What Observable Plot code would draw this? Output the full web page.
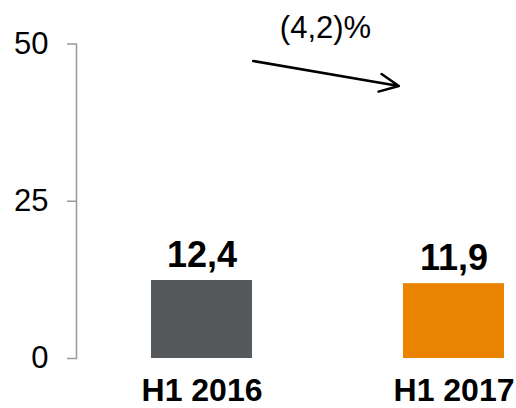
<!DOCTYPE html>
<html><head><meta charset="utf-8">
<script src="https://cdn.jsdelivr.net/npm/d3@7"></script>
<script src="https://cdn.jsdelivr.net/npm/@observablehq/plot@0.6"></script>
<style>html,body{margin:0;padding:0;background:#fff;}</style>
</head><body><div id="chart"></div>
<script>
const categories = ["H1 2016", "H1 2017"];
const values = [12.4, 11.9];
const valueLabels = ["12,4", "11,9"];
const barColors = ["#55595c", "#ea8400"];
const yTicks = [0, 25, 50];
const changeLabel = "(4,2)%";
const arrowFrom = {x: "H1 2016", y: 48.7};
const arrowTo = {x: "H1 2017", y: 41.8};

const data = categories.map((c, i) => ({category: c, value: values[i], label: valueLabels[i], color: barColors[i]}));
const arrowData = [{x1: arrowFrom.x, y1: arrowFrom.y, x2: arrowTo.x, y2: arrowTo.y}];

const chart = Plot.plot({
  width: 516, height: 408,
  marginLeft: 76, marginRight: 12, marginTop: 43.5, marginBottom: 50,
  style: {fontFamily: "'Liberation Sans', Arial, sans-serif", background: "white", color: "black"},
  x: {domain: categories, range: [151, 504], paddingInner: 0.6, paddingOuter: 0},
  y: {domain: [0, 50]},
  color: {type: "identity"},
  marks: [
    Plot.frame({anchor: "left", stroke: "#999", strokeWidth: 1.5}),
    Plot.axisY({ticks: yTicks, tickSize: 9, tickPadding: 19, stroke: "#999", strokeWidth: 1.5, fill: "black", fontSize: 31, label: null, tickFormat: d => String(d)}),
    Plot.axisX({tickSize: 0, tickPadding: 20, fontSize: 32, fontWeight: "bold", fill: "black", label: null}),
    Plot.barY(data, {x: "category", y: "value", fill: "color"}),
    Plot.text(data, {x: "category", y: "value", text: "label", fontSize: 36, fontWeight: "bold", lineAnchor: "bottom", dy: -14, fill: "black"}),
    Plot.arrow(arrowData, {x1: "x1", y1: "y1", x2: "x2", y2: "y2", insetStart: 52, insetEnd: 56, strokeWidth: 2.5, headLength: 12.6, headAngle: 50, stroke: "black"}),
    Plot.text([changeLabel], {frameAnchor: "top", dx: 35, dy: -6, lineAnchor: "bottom", fontSize: 31, fill: "black"})
  ]
});
document.getElementById("chart").appendChild(chart);
</script>
</body></html>
